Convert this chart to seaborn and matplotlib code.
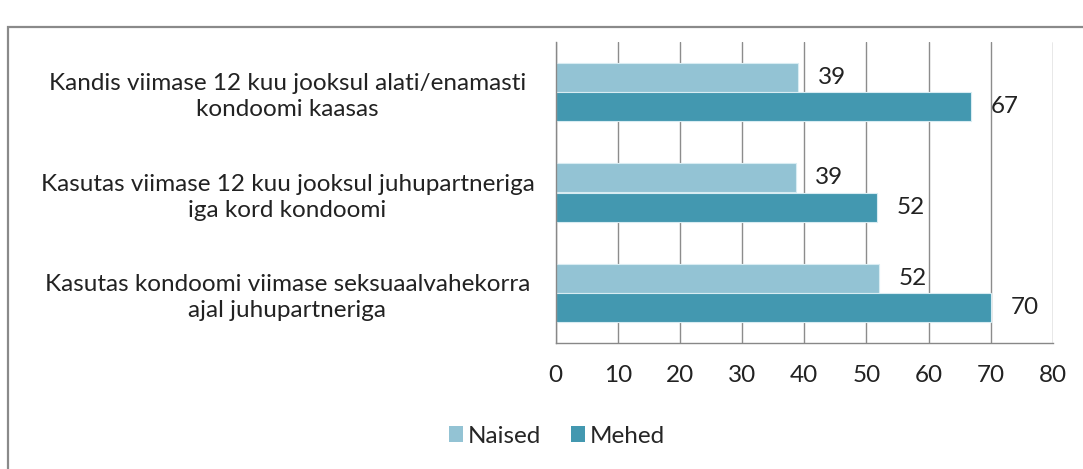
import matplotlib
matplotlib.use("Agg")
import matplotlib.pyplot as plt
import seaborn as sns
import pandas as pd
from matplotlib.patches import Rectangle, Patch

categories = [
    "Kandis viimase 12 kuu jooksul alati/enamasti\nkondoomi kaasas",
    "Kasutas viimase 12 kuu jooksul juhupartneriga\niga kord kondoomi",
    "Kasutas kondoomi viimase seksuaalvahekorra\najal juhupartneriga",
]
naised = [39.0, 38.6, 52.0]
mehed = [66.8, 51.7, 70.0]
series_names = ["Naised", "Mehed"]
colors = ["#93C3D4", "#4398B0"]
x_ticks = [0, 10, 20, 30, 40, 50, 60, 70, 80]

df = pd.DataFrame({
    "kategooria": categories * 2,
    "väärtus": naised + mehed,
    "sugu": [series_names[0]] * 3 + [series_names[1]] * 3,
})

sns.set_style("white")
plt.rcParams["font.family"] = ["Lato", "DejaVu Sans"]

FS = 17.5
W, H = 1083, 469
fig = plt.figure(figsize=(W / 100, H / 100), dpi=100)
ax = fig.add_axes([555.5 / W, 1 - 343 / H, (1053 - 555.5) / W, (343 - 42) / H])

sns.barplot(data=df, y="kategooria", x="väärtus", hue="sugu", order=categories,
            hue_order=series_names, palette=colors, orient="h", width=0.58,
            ax=ax, edgecolor="#D8ECF2", linewidth=0.8, saturation=1, legend=False)

ax.set_xlim(0, 80)
ax.set_ylim(2.5, -0.5)
ax.set_xticks(x_ticks)
ax.set_xticklabels([str(t) for t in x_ticks], fontsize=FS, color="#222222")
ax.set_yticks(range(len(categories)))
ax.set_yticklabels(categories, fontsize=FS, color="#222222", ha="center",
                   linespacing=1.3)
ax.tick_params(axis="y", which="major", length=0, pad=193)
ax.set_yticks([-0.5, 0.5, 1.5, 2.5], minor=True)
ax.tick_params(axis="y", which="minor", length=7, color="#888888", width=1)
ax.tick_params(axis="x", which="major", length=7, color="#888888", width=1, pad=9)
ax.set_xlabel("")
ax.set_ylabel("")
ax.grid(axis="x", color="#8C8C8C", linewidth=1)
ax.set_axisbelow(True)
for s in ["top", "right"]:
    ax.spines[s].set_visible(False)
for s in ["left", "bottom"]:
    ax.spines[s].set_color("#888888")
    ax.spines[s].set_linewidth(1)

for cont in ax.containers:
    ax.bar_label(cont, labels=[f"{round(v):d}" for v in cont.datavalues],
                 padding=14, fontsize=FS, color="#222222")

handles = [Patch(facecolor=c, edgecolor="none") for c in colors]
fig.legend(handles, series_names, loc="center", bbox_to_anchor=(557 / W, 1 - 436 / H),
           ncol=2, frameon=False, fontsize=FS, handlelength=0.6, handleheight=0.6,
           handletextpad=0.2, columnspacing=1.2)

fig.patches.append(Rectangle((8 / W, -0.1), 1.2, 1 - 27 / H + 0.1, transform=fig.transFigure,
                             fill=False, edgecolor="#8A8A8A", linewidth=1.6))

fig.savefig("out.png", dpi=100)
